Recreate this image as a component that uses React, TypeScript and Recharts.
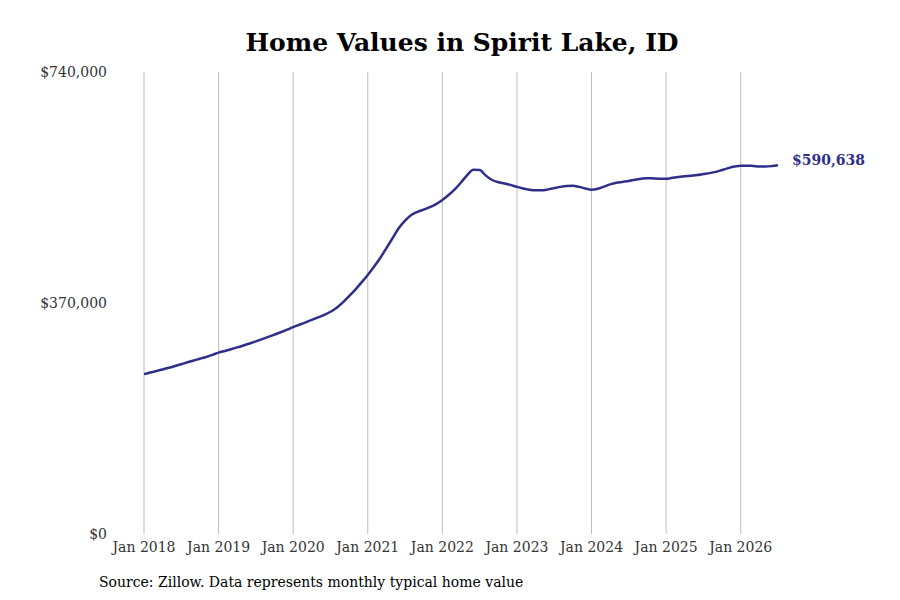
import React from 'react';
import { LineChart, Line, XAxis, YAxis, ReferenceLine } from 'recharts';

// monthly typical home value, Jan 2018 .. Jul 2026
const values2018 = [256000, 258700, 261200, 263600, 266200, 269000, 272000, 275000, 277900, 280800, 283600, 287000];
const values2019 = [290500, 293200, 296000, 298900, 302000, 305200, 308600, 312100, 315700, 319400, 323200, 327200];
const values2020 = [331500, 335200, 339000, 343000, 347000, 351000, 356000, 362500, 371000, 381000, 391500, 403000];
const values2021 = [415000, 428000, 442000, 458000, 474000, 490000, 502000, 511000, 516000, 519500, 523500, 528500];
const values2022 = [535000, 543000, 552000, 563000, 575000, 583500, 583000, 574000, 567000, 563500, 561500, 559000];
const values2023 = [556000, 553500, 551500, 550500, 550500, 552000, 554000, 556000, 557500, 558000, 556000, 553500];
const values2024 = [551500, 553000, 556500, 560000, 562500, 564000, 565500, 567500, 569000, 570000, 569500, 569000];
const values2025 = [569000, 570500, 572000, 573000, 574000, 575000, 576500, 578000, 580000, 583000, 586000, 588500];
const values2026 = [590000, 590000, 589500, 588800, 588600, 589300, 590638];

const allValues = [
  ...values2018, ...values2019, ...values2020, ...values2021, ...values2022,
  ...values2023, ...values2024, ...values2025, ...values2026,
];

const tickMonths = [0, 12, 24, 36, 48, 60, 72, 84, 96];
const tickLabels = ['Jan 2018', 'Jan 2019', 'Jan 2020', 'Jan 2021', 'Jan 2022', 'Jan 2023', 'Jan 2024', 'Jan 2025', 'Jan 2026'];
const yTicks = [0, 370000, 740000];

const data = allValues.map((v, i) => ({ m: i, value: v }));
const LAST = data.length - 1;

const LINE_COLOR = '#2e2e8b';
const FONT = '"DejaVu Serif", serif';
const TICK = { fill: '#333', fontSize: 14, fontFamily: FONT };

const fmt = (v: number) => '$' + v.toLocaleString('en-US');

const EndLabel = (props: any) => {
  const { x, y, index, value } = props;
  if (index !== LAST) return null;
  return (
    <text x={x + 14} y={y - 5} dy="0.35em" fill={LINE_COLOR} fontFamily={FONT} fontSize={14} fontWeight="bold">
      {fmt(value)}
    </text>
  );
};

export default function App() {
  return (
    <div style={{ position: 'absolute', left: 0, top: 0, width: 900, height: 600, background: '#fff' }}>
      <div style={{
        position: 'absolute', top: 26, left: 0, width: 924, textAlign: 'center',
        fontFamily: FONT, fontWeight: 'bold', fontSize: 25, color: '#000', lineHeight: '34px',
      }}>
        Home Values in Spirit Lake, ID
      </div>
      <LineChart width={900} height={600} data={data} margin={{ top: 72, right: 122, bottom: 36, left: 35 }}>
        <XAxis
          dataKey="m"
          type="number"
          domain={[0, LAST]}
          ticks={tickMonths}
          tickFormatter={(v) => tickLabels[tickMonths.indexOf(v)]}
          padding={{ left: 29, right: 0 }}
          axisLine={false}
          tickLine={false}
          tick={TICK}
          height={30}
          interval={0}
        />
        <YAxis
          domain={[0, 740000]}
          ticks={yTicks}
          tickFormatter={fmt}
          axisLine={false}
          tickLine={false}
          tick={TICK}
          width={80}
        />
        {tickMonths.map((m) => (
          <ReferenceLine key={m} x={m} stroke="#bbb" strokeWidth={1} />
        ))}
        <Line
          type="monotone"
          dataKey="value"
          stroke={LINE_COLOR}
          strokeWidth={2.5}
          dot={false}
          isAnimationActive={false}
          label={EndLabel}
        />
      </LineChart>
      <div style={{ position: 'absolute', left: 99, top: 572, fontFamily: FONT, fontSize: 14, color: '#000', lineHeight: '20px' }}>
        Source: Zillow. Data represents monthly typical home value
      </div>
    </div>
  );
}
